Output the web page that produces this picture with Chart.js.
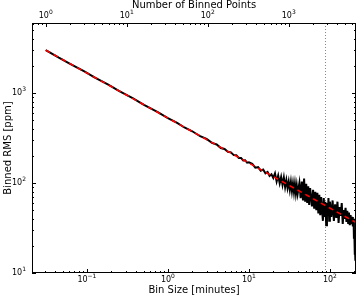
<!DOCTYPE html>
<html>
<head>
<meta charset="utf-8">
<script src="https://cdn.jsdelivr.net/npm/chart.js@4.4.1/dist/chart.umd.min.js"></script>
<style>
  body { margin: 0; background: #fff; }
</style>
</head>
<body>
<canvas id="myChart" width="357" height="298"></canvas>
<script>
// bin size in minutes and the measured rms at that bin size
const binSizes = [
  0.031, 0.045, 0.062, 0.093, 0.124, 0.186, 0.248, 0.372, 0.5, 0.75, 1.0, 1.3, 1.6, 2.0, 2.5, 3.0, 3.5, 4.0, 4.5,
  5, 5.5, 6, 6.5, 7, 7.5, 8, 8.5, 9, 9.5, 10,
  11, 12, 13, 14, 15, 16, 17, 18, 19, 20,
  21, 22, 23, 24, 25, 26, 27, 28, 29, 30, 31, 32, 33, 34, 35, 36, 37, 38, 39, 40,
  42, 43.5, 45, 46.5, 48, 49.5, 51, 52.5, 54, 55.5, 57, 58.5, 60,
  62, 64, 66, 68, 70, 72, 74, 76, 78, 80, 82, 84, 86, 88, 90, 92, 94, 96, 98, 100,
  104, 108, 112, 116, 120, 124, 128, 132, 136, 140, 144, 148, 152, 156, 160, 164, 168, 172, 176, 180, 184, 188, 192, 196,
  198, 200, 202, 204, 206, 208, 210
];
const binnedRms = [
  3000, 2470, 2110, 1740, 1490, 1230, 1055, 870, 742, 612, 526, 466, 414, 376, 331, 309, 279, 268, 245,
  239, 222, 219, 204, 203, 190, 190, 178, 179, 168, 170,
  163, 148, 150, 137, 141, 128, 133, 120, 125, 114,
  128, 104, 121, 99, 117, 95, 115, 90, 108, 88, 104, 84, 103, 81, 99, 79, 98, 77, 94, 76,
  100, 68, 104, 64, 112, 62, 98, 60, 92, 57, 88, 70, 55,
  84, 52, 80, 50, 78, 46, 74, 44, 70, 50, 38, 68, 42, 62, 34, 60, 44, 68, 38, 62,
  42, 64, 38, 58, 41, 62, 36, 54, 43, 60, 35, 50, 40, 53, 37, 49, 36, 47, 34, 44, 35, 42, 33, 40,
  24, 30, 16, 22, 14, 20, 13
];

// expected white noise scaling (red dashed)
const fitBins = [0.031, 210];
const fitRms = [3000, 36.4];

const cadence = 0.031; // minutes per point, for the top axis
const markerBin = 87;  // dotted vertical line

const xTicks = [0.1, 1, 10, 100];
const topTicks = [1, 10, 100, 1000];
const yTicks = [10, 100, 1000];

const xMin = 0.021, xMax = 210;
const yMin = 10, yMax = 6000;

function logTicks(min, max) {
  const out = [];
  for (let e = Math.floor(Math.log10(min)); e <= Math.ceil(Math.log10(max)); e++) {
    for (let m = 1; m < 10; m++) {
      const v = m * Math.pow(10, e);
      if (v >= min && v <= max) out.push({ v: v, major: m === 1 });
    }
  }
  return out;
}

// "10" with a raised exponent, like matplotlib's log labels
function drawPow(ctx, v, x, y, align) {
  const e = Math.round(Math.log10(v));
  const exp = String(e).replace("-", "\u2212");
  ctx.font = "8px 'DejaVu Sans'";
  const wb = ctx.measureText("10").width;
  ctx.font = "6px 'DejaVu Sans'";
  const we = ctx.measureText(exp).width;
  const w = wb + we;
  let x0 = x - w / 2;
  if (align === "right") x0 = x - w;
  ctx.textAlign = "left";
  ctx.textBaseline = "middle";
  ctx.font = "8px 'DejaVu Sans'";
  ctx.fillText("10", x0, y);
  ctx.font = "6px 'DejaVu Sans'";
  ctx.fillText(exp, x0 + wb, y - 3.5);
}

const titleFont = { family: "DejaVu Sans", size: 10 };

const frameTicks = {
  id: "frameTicks",
  beforeDatasetsDraw(chart) {
    const { ctx, chartArea: a, scales } = chart;
    const px = Math.round(scales.x.getPixelForValue(markerBin)) + 0.5;
    ctx.save();
    ctx.strokeStyle = "#888";
    ctx.lineWidth = 1;
    ctx.setLineDash([1, 2]);
    ctx.beginPath();
    ctx.moveTo(px, a.top);
    ctx.lineTo(px, a.bottom);
    ctx.stroke();
    ctx.restore();
  },
  afterDatasetsDraw(chart) {
    const { ctx, chartArea: a, scales } = chart;
    ctx.save();
    ctx.strokeStyle = "#000";
    ctx.lineWidth = 1;
    ctx.beginPath();
    logTicks(xMin, xMax).forEach((t) => {
      const px = Math.round(scales.x.getPixelForValue(t.v)) + 0.5;
      const len = t.major ? 4 : 2;
      ctx.moveTo(px, a.bottom);
      ctx.lineTo(px, a.bottom - len);
    });
    logTicks(xMin / cadence, xMax / cadence).forEach((t) => {
      const px = Math.round(scales.x2.getPixelForValue(t.v)) + 0.5;
      const len = t.major ? 4 : 2;
      ctx.moveTo(px, a.top);
      ctx.lineTo(px, a.top + len);
    });
    logTicks(yMin, yMax).forEach((t) => {
      const py = Math.round(scales.y.getPixelForValue(t.v)) + 0.5;
      const len = t.major ? 4 : 2;
      ctx.moveTo(a.left, py);
      ctx.lineTo(a.left + len, py);
      ctx.moveTo(a.right, py);
      ctx.lineTo(a.right - len, py);
    });
    ctx.stroke();
    ctx.strokeRect(a.left + 0.5, a.top + 0.5, a.right - a.left - 1, a.bottom - a.top - 1);

    ctx.fillStyle = "#000";
    xTicks.forEach((v) => drawPow(ctx, v, scales.x.getPixelForValue(v), a.bottom + 7, "center"));
    topTicks.forEach((v) => drawPow(ctx, v, scales.x2.getPixelForValue(v), a.top - 7.5, "center"));
    yTicks.forEach((v) => drawPow(ctx, v, a.left - 6, scales.y.getPixelForValue(v), "right"));
    ctx.restore();
  },
};

new Chart(document.getElementById("myChart"), {
  type: "line",
  data: {
    datasets: [
      {
        label: "fit",
        data: fitBins.map((b, i) => ({ x: b, y: fitRms[i] })),
        borderColor: "#ff0000",
        borderWidth: 1.6,
        borderDash: [5, 4],
        pointRadius: 0,
        order: 0,
      },
      {
        label: "binned",
        data: binSizes.map((b, i) => ({ x: b, y: binnedRms[i] })),
        borderColor: "#000",
        borderWidth: 2,
        pointRadius: 0,
        order: 1,
      },
    ],
  },
  options: {
    responsive: false,
    animation: false,
    layout: { padding: { left: 0, right: 1, top: 0, bottom: 0 } },
    plugins: {
      legend: { display: false },
      tooltip: { enabled: false },
    },
    scales: {
      x: {
        type: "logarithmic",
        position: "bottom",
        min: xMin,
        max: xMax,
        grid: { display: false, drawTicks: false },
        border: { display: false },
        afterFit: (s) => { s.height = 25; },
        ticks: { display: false },
        title: {
          display: true,
          text: "Bin Size [minutes]",
          color: "#000",
          font: titleFont,
          padding: { top: 0, bottom: 2 },
        },
      },
      x2: {
        type: "logarithmic",
        position: "top",
        min: xMin / cadence,
        max: xMax / cadence,
        grid: { display: false, drawTicks: false },
        border: { display: false },
        afterFit: (s) => { s.height = 23; },
        ticks: { display: false },
        title: {
          display: true,
          text: "Number of Binned Points",
          color: "#000",
          font: { family: "DejaVu Sans", size: 10, lineHeight: 1 },
          padding: { top: 0, bottom: 0 },
        },
      },
      y: {
        type: "logarithmic",
        position: "left",
        min: yMin,
        max: yMax,
        grid: { display: false, drawTicks: false },
        border: { display: false },
        afterFit: (s) => { s.width = 32; },
        ticks: { display: false },
        title: {
          display: true,
          text: "Binned RMS [ppm]",
          color: "#000",
          font: titleFont,
          padding: { top: 2, bottom: 0 },
        },
      },
    },
  },
  plugins: [frameTicks],
});
</script>
</body>
</html>
